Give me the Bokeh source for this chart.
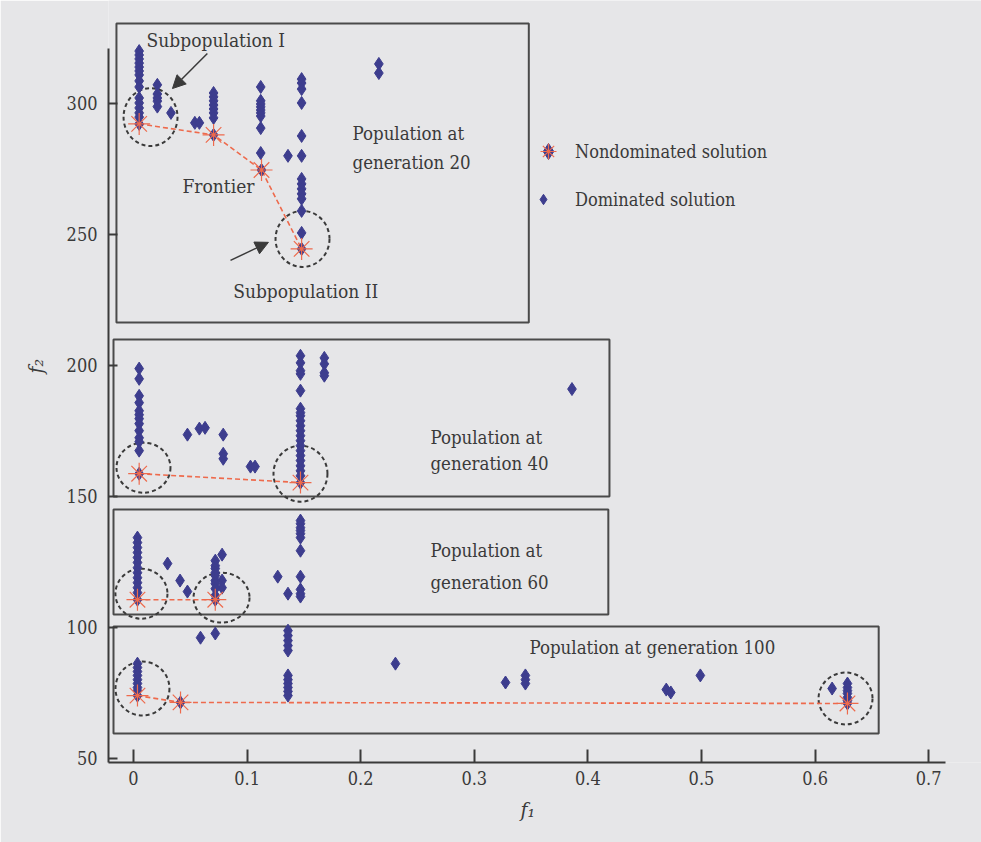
from bokeh.plotting import figure
from bokeh.models import (FixedTicker, Arrow, NormalHead, Legend, LegendItem, Range1d, Title)
from bokeh.core.properties import value
from bokeh.embed import file_html
from bokeh.resources import INLINE

# ---------------- data ----------------
gen20_dom_f1 = [0.005, 0.005, 0.005, 0.005, 0.005, 0.005, 0.005, 0.005, 0.005, 0.005, 0.005, 0.005, 0.005, 0.005,
                0.021, 0.021, 0.021, 0.021, 0.021,
                0.033, 0.054, 0.058,
                0.0705, 0.0705, 0.0705, 0.0705, 0.0705, 0.0705, 0.0705,
                0.112, 0.112, 0.112, 0.112, 0.112, 0.112, 0.112, 0.112, 0.112,
                0.148, 0.148, 0.148, 0.148, 0.148, 0.148, 0.148, 0.148, 0.148, 0.148, 0.148, 0.148, 0.148,
                0.136,
                0.216, 0.216]
gen20_dom_f2 = [320.0, 318.5, 317.0, 315.4, 313.9, 312.4, 310.9, 308.6, 306.3, 302.1, 300.2, 298.3, 296.4, 294.8,
                307.1, 303.6, 302.1, 300.9, 298.8,
                296.4, 292.6, 292.6,
                304.0, 302.5, 301.0, 299.4, 297.9, 296.4, 294.5,
                306.3, 301.0, 299.8, 298.7, 297.5, 296.4, 295.2, 290.6, 281.1,
                309.3, 307.8, 305.5, 300.2, 287.6, 280.0, 271.2, 269.3, 267.4, 265.5, 263.6, 259.0, 250.6,
                280.0,
                315.1, 311.6]
gen20_nd_f1 = [0.005, 0.0705, 0.1127, 0.148]
gen20_nd_f2 = [292.2, 288.0, 274.6, 244.5]

gen40_dom_f1 = [0.005, 0.005, 0.005, 0.005, 0.005, 0.005, 0.005, 0.005, 0.005, 0.005, 0.005, 0.005,
                0.0475, 0.058, 0.063, 0.079, 0.079, 0.079, 0.103, 0.107,
                0.147, 0.147, 0.147, 0.147, 0.147, 0.147, 0.147, 0.147, 0.147, 0.147,
                0.147, 0.147, 0.147, 0.147, 0.147, 0.147, 0.147, 0.147, 0.147, 0.147,
                0.168, 0.168, 0.168, 0.168,
                0.386]
gen40_dom_f2 = [198.8, 194.9, 188.4, 185.8, 182.7, 181.2, 179.7, 177.8, 175.1, 172.4, 170.9, 167.5,
                173.6, 175.9, 176.2, 173.6, 166.3, 164.4, 161.4, 161.4,
                203.7, 201.0, 198.0, 196.8, 190.4, 183.5, 182.0, 180.8, 178.9, 177.0,
                175.1, 173.2, 171.3, 169.4, 167.5, 165.6, 163.7, 161.7, 159.8, 157.9,
                202.9, 200.6, 197.2, 196.1,
                191.0]
gen40_nd_f1 = [0.005, 0.147]
gen40_nd_f2 = [158.7, 155.3]

gen60_dom_f1 = [0.0035, 0.0035, 0.0035, 0.0035, 0.0035, 0.0035, 0.0035, 0.0035, 0.0035, 0.0035, 0.0035, 0.0035,
                0.030, 0.041, 0.0475,
                0.072, 0.072, 0.072, 0.072, 0.072, 0.072, 0.072, 0.072, 0.072,
                0.078, 0.078, 0.078,
                0.147, 0.147, 0.147, 0.147, 0.147, 0.147, 0.147, 0.147, 0.147, 0.147, 0.147,
                0.127, 0.136]
gen60_dom_f2 = [134.3, 132.4, 130.5, 128.6, 126.7, 124.8, 122.8, 120.9, 119.0, 117.1, 115.2, 113.3,
                124.4, 117.9, 113.7,
                125.5, 123.6, 122.5, 120.9, 119.8, 117.9, 116.7, 114.8, 112.2,
                127.8, 117.9, 115.2,
                140.8, 139.6, 138.1, 137.0, 135.8, 134.3, 129.3, 119.4, 114.5, 112.9, 111.8,
                119.4, 112.9]
gen60_nd_f1 = [0.0035, 0.072]
gen60_nd_f2 = [110.6, 110.6]

gen100_dom_f1 = [0.059, 0.072,
                 0.136, 0.136, 0.136, 0.136, 0.136, 0.136, 0.136, 0.136, 0.136, 0.136, 0.136,
                 0.0035, 0.0035, 0.0035, 0.0035, 0.0035, 0.0035, 0.0035, 0.0035,
                 0.2306, 0.3275,
                 0.345, 0.345, 0.345,
                 0.469, 0.473, 0.499, 0.615,
                 0.6285, 0.6285, 0.6285, 0.6285, 0.6285, 0.6285]
gen100_dom_f2 = [96.1, 97.7,
                 98.8, 96.9, 95.0, 93.1, 91.2, 81.7, 80.1, 78.6, 77.1, 75.6, 74.0,
                 86.2, 84.7, 83.2, 81.7, 80.1, 78.6, 77.1, 75.9,
                 86.2, 79.0,
                 81.7, 80.1, 78.6,
                 76.3, 75.2, 81.7, 76.7,
                 78.6, 77.1, 75.9, 74.8, 73.3, 72.1]
gen100_nd_f1 = [0.0035, 0.0414, 0.6285]
gen100_nd_f2 = [74.0, 71.4, 71.0]

# panel boxes (f1 left/right, f2 bottom/top)
panel_left = [-0.015, -0.0176, -0.0176, -0.0176]
panel_right = [0.348, 0.419, 0.418, 0.656]
panel_bottom = [216.4, 150.0, 105.0, 59.5]
panel_top = [330.5, 209.9, 145.0, 100.4]

# subpopulation circles
circle_f1 = [0.015, 0.1488, 0.0088, 0.147, 0.007, 0.0775, 0.0079, 0.6268]
circle_f2 = [294.8, 248.3, 161.0, 158.7, 112.9, 111.4, 76.7, 72.9]
circle_w = [0.0475, 0.0475, 0.0475, 0.0475, 0.0458, 0.0493, 0.0475, 0.0475]
circle_h = [22.1, 21.4, 19.1, 21.4, 19.1, 19.1, 20.6, 19.8]

x_ticks = [0, 0.1, 0.2, 0.3, 0.4, 0.5, 0.6, 0.7]
x_tick_labels = ["0", "0.1", "0.2", "0.3", "0.4", "0.5", "0.6", "0.7"]
y_ticks = [50, 100, 150, 200, 250, 300]
y_tick_labels = ["50", "100", "150", "200", "250", "300"]

center_texts = ["Subpopulation  I", "Frontier", "Subpopulation  II"]
center_text_f1 = [0.0748, 0.0748, 0.154]
center_text_f2 = [324.2, 268.5, 228.5]

left_texts = ["Population at", "generation 20", "Population at", "generation 40",
              "Population at", "generation 60", "Population at generation 100"]
left_text_f1 = [0.1928, 0.1928, 0.2614, 0.2614, 0.2614, 0.2614, 0.3486]
left_text_f2 = [288.7, 277.3, 172.4, 162.5, 129.3, 117.1, 92.3]

# ---------------- styling ----------------
BG = "#e6e6e8"
INK = "#3a3a3a"
BLUE = "#3d3d8e"
RED = "#ee6a4c"
FONT = "DejaVu Serif Condensed"

p = figure(width=981, height=842, output_backend="svg", toolbar_location=None,
           x_range=Range1d(-0.022, 0.7465), y_range=Range1d(48.47, 339.3),
           min_border_left=108, min_border_right=0, min_border_top=0, min_border_bottom=80)
p.background_fill_color = BG
p.border_fill_color = BG
p.outline_line_color = None
p.grid.visible = False

for ax in (p.xaxis, p.yaxis):
    ax.axis_line_color = INK
    ax.axis_line_width = 2
    ax.major_tick_line_color = INK
    ax.major_tick_line_width = 2
    ax.minor_tick_line_color = None
    ax.major_tick_out = 0
    ax.major_label_text_font = FONT
    ax.major_label_text_font_size = "18px"
    ax.major_label_text_color = INK

p.xaxis.ticker = FixedTicker(ticks=x_ticks)
p.xaxis.major_label_overrides = dict(zip(x_ticks, x_tick_labels))
p.xaxis.major_tick_in = 13
p.xaxis.major_label_standoff = 8
p.xaxis.bounds = (-0.022, 0.715)

p.yaxis.ticker = FixedTicker(ticks=y_ticks)
p.yaxis.major_label_overrides = dict(zip(y_ticks, y_tick_labels))
p.yaxis.major_tick_in = 9
p.yaxis.major_label_standoff = 11
p.yaxis.bounds = (48.47, 321)

# axis titles (as titles so they can be offset like in the original)
TT = dict(text_font=FONT, text_font_style="italic", text_font_size="21px",
          text_color=INK, align="left")
p.add_layout(Title(text="f\u2081", offset=412, standoff=17, **TT), "below")
p.add_layout(Title(text="f\u2082", offset=389, standoff=32, **TT), "left")

# panel boxes
p.quad(left=panel_left, right=panel_right, bottom=panel_bottom, top=panel_top,
       fill_alpha=0, line_color="#4a4a4a", line_width=2)

# dashed circles
p.ellipse(x=circle_f1, y=circle_f2, width=circle_w, height=circle_h,
          fill_alpha=0, line_color=INK, line_width=2, line_dash="4 3")

MK = dict(marker="diamond", size=13, color=BLUE)

# dominated solutions
dom_r = None
for fx, fy in [(gen20_dom_f1, gen20_dom_f2), (gen40_dom_f1, gen40_dom_f2),
               (gen60_dom_f1, gen60_dom_f2), (gen100_dom_f1, gen100_dom_f2)]:
    r = p.scatter(fx, fy, **MK)
    if dom_r is None:
        dom_r = r

# frontiers and nondominated solutions
nd_d = nd_a = None
for fx, fy in [(gen20_nd_f1, gen20_nd_f2), (gen40_nd_f1, gen40_nd_f2),
               (gen60_nd_f1, gen60_nd_f2), (gen100_nd_f1, gen100_nd_f2)]:
    p.line(fx, fy, line_color=RED, line_width=1.6, line_dash="5 3")
    dr = p.scatter(fx, fy, **MK)
    ar = p.scatter(fx, fy, marker="asterisk", size=22, line_color=RED, line_width=1.2)
    if nd_d is None:
        nd_d, nd_a = dr, ar

# arrows
head = dict(size=13, fill_color=INK, line_color=INK)
p.add_layout(Arrow(end=NormalHead(**head), x_start=0.065, y_start=319.1, x_end=0.0343, y_end=305.7,
                   line_color=INK, line_width=1.5))
p.add_layout(Arrow(end=NormalHead(**head), x_start=0.0854, y_start=240.1, x_end=0.1188, y_end=247.0,
                   line_color=INK, line_width=1.5))

# texts
p.text(x=center_text_f1, y=center_text_f2, text=center_texts, text_font=value(FONT),
       text_font_size="19px", text_color=INK, text_align="center", text_baseline="middle")
p.text(x=left_text_f1, y=left_text_f2, text=left_texts, text_font=value(FONT),
       text_font_size="18.5px", text_color=INK, text_align="left", text_baseline="middle")

LEG = dict(background_fill_alpha=0, border_line_alpha=0, label_text_font=FONT,
           label_text_font_size="18px", label_text_color=INK, padding=0, margin=0)
leg_nd = Legend(items=[LegendItem(label="Nondominated solution", renderers=[nd_d, nd_a])],
                location=(420, 591), glyph_width=40, glyph_height=40, label_standoff=7, **LEG)
leg_d = Legend(items=[LegendItem(label="Dominated solution", renderers=[dom_r])],
               location=(422, 550), glyph_width=26, glyph_height=26, label_standoff=19, **LEG)
p.add_layout(leg_nd)
p.add_layout(leg_d)

open("out.html", "w").write(file_html(p, INLINE))
